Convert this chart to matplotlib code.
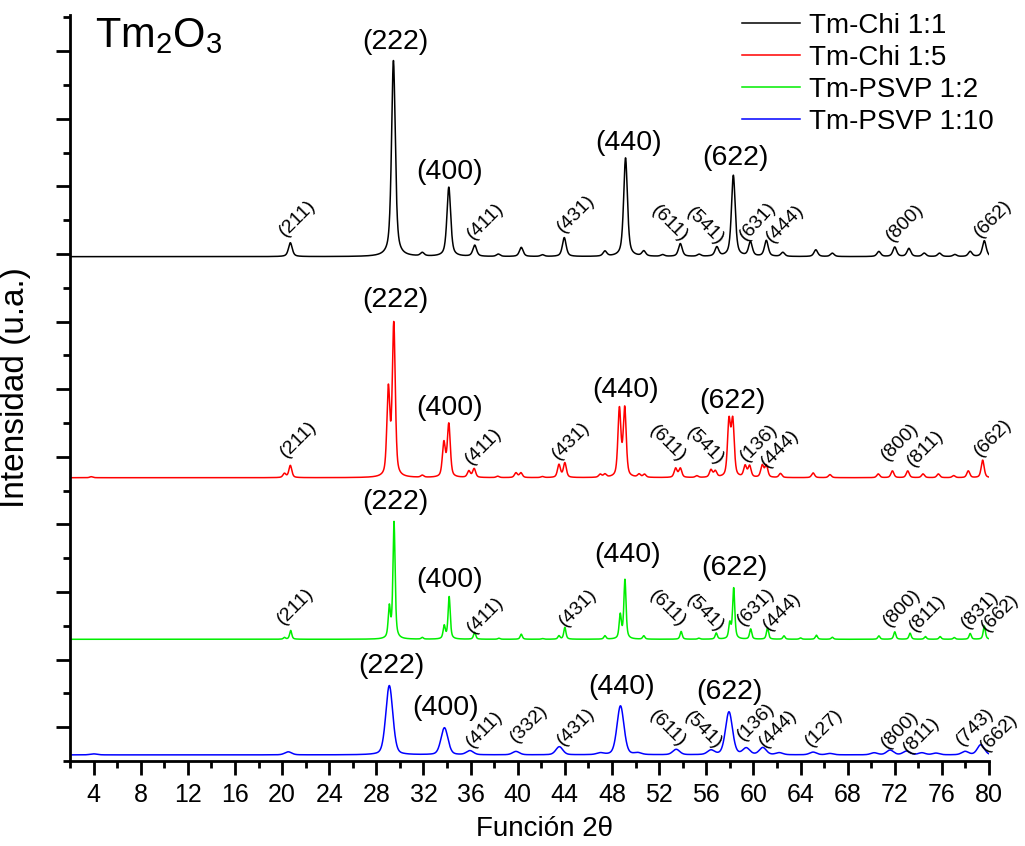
import numpy as np
import matplotlib
matplotlib.use("Agg")
import matplotlib.pyplot as plt
from matplotlib.ticker import MultipleLocator, FixedLocator, NullFormatter

plt.rcParams['font.family'] = ['Liberation Sans', 'DejaVu Sans']
plt.rcParams['mathtext.fontset'] = 'custom'
plt.rcParams['mathtext.rm'] = 'Liberation Sans'

# series names, colours and vertical offsets of each pattern
names = ["Tm-Chi 1:1", "Tm-Chi 1:5", "Tm-PSVP 1:2", "Tm-PSVP 1:10"]
colors = ["#000000", "#ff0000", "#00ee00", "#0000ff"]
offsets = [14.92, 8.38, 3.6, 0.18]
fwhm = [0.38, 0.3, 0.22, 0.7]
eta = [0.6, 0.5, 0.6, 0.3]

# peak positions (2theta) and heights
pos_chi11 = [20.7, 29.45, 31.9, 34.15, 36.35, 38.35, 40.3, 42.1, 43.95, 47.4, 49.15,
             50.7, 52.3, 53.8, 55.4, 56.9, 58.3, 59.75, 61.1, 62.5, 65.3, 66.7, 70.65,
             72.0, 73.2, 74.5, 75.8, 77.1, 78.4, 79.6]
h_chi11 = [0.41, 5.8, 0.1, 2.05, 0.33, 0.07, 0.27, 0.05, 0.56, 0.15, 2.92, 0.15, 0.05,
           0.38, 0.06, 0.27, 2.4, 0.42, 0.47, 0.12, 0.2, 0.1, 0.15, 0.28, 0.24, 0.1,
           0.1, 0.06, 0.15, 0.47]

pos_chi15 = [3.8, 20.2, 20.7, 29.02, 29.48, 31.9, 33.73, 34.15, 35.85, 36.3, 38.3,
             39.85, 40.27, 42.1, 43.5, 44.0, 47.0, 47.4, 48.63, 49.08, 50.3, 50.76,
             53.4, 53.8, 55.2, 56.4, 56.77, 57.93, 58.25, 59.3, 59.68, 60.75, 61.1,
             62.3, 65.07, 66.5, 70.6, 71.8, 73.1, 74.4, 75.7, 77.0, 78.24, 79.46]
h_chi15 = [0.03, 0.12, 0.36, 2.55, 4.5, 0.06, 1.0, 1.56, 0.19, 0.26, 0.04, 0.14, 0.14,
           0.03, 0.38, 0.43, 0.09, 0.09, 2.0, 2.02, 0.09, 0.09, 0.27, 0.27, 0.05,
           0.22, 0.18, 1.62, 1.62, 0.33, 0.33, 0.35, 0.35, 0.12, 0.14, 0.09, 0.11,
           0.2, 0.2, 0.11, 0.11, 0.06, 0.2, 0.52]

pos_psvp12 = [20.2, 20.73, 29.1, 29.5, 31.9, 33.76, 34.18, 36.34, 38.4, 40.3, 42.1,
              43.5, 44.0, 47.4, 48.7, 49.1, 50.7, 53.87, 55.37, 56.85, 58.0, 58.33,
              59.77, 61.2, 62.6, 64.0, 65.35, 66.7, 70.65, 72.0, 73.3, 74.6, 75.85,
              77.05, 78.4, 79.6]
h_psvp12 = [0.05, 0.26, 0.9, 3.45, 0.05, 0.38, 1.25, 0.2, 0.03, 0.15, 0.02, 0.1, 0.35,
            0.1, 0.7, 1.75, 0.1, 0.23, 0.03, 0.18, 0.45, 1.5, 0.3, 0.33, 0.1, 0.04,
            0.12, 0.06, 0.1, 0.22, 0.18, 0.08, 0.08, 0.05, 0.17, 0.39]

pos_psvp110 = [4.0, 20.52, 29.1, 33.78, 35.94, 39.85, 43.53, 47.0, 48.72, 50.2, 53.45,
               56.4, 57.93, 59.4, 60.8, 62.2, 65.07, 66.5, 70.25, 71.6, 73.0, 74.3,
               75.5, 77.97, 79.3]
h_psvp110 = [0.03, 0.09, 2.05, 0.8, 0.12, 0.1, 0.24, 0.05, 1.45, 0.05, 0.16, 0.13, 1.27,
             0.19, 0.21, 0.06, 0.08, 0.04, 0.06, 0.14, 0.11, 0.06, 0.05, 0.1, 0.3]

peak_pos = [pos_chi11, pos_chi15, pos_psvp12, pos_psvp110]
peak_h = [h_chi11, h_chi15, h_psvp12, h_psvp110]

# reflection labels: (text, x, y, size, rotation)
labels_chi11 = [("(222)", 29.65, 21.28, 'big', 0), ("(400)", 34.18, 17.43, 'big', 0),
                ("(440)", 49.4, 18.27, 'big', 0), ("(622)", 58.5, 17.83, 'big', 0),
                ("(211)", 21.28, 16.06, 'small', 45), ("(411)", 37.3, 15.96, 'small', 45),
                ("(431)", 44.95, 16.2, 'small', 45), ("(611)", 52.9, 15.89, 'small', -45),
                ("(541)", 55.86, 15.81, 'small', -45), ("(631)", 60.39, 15.96, 'small', 48),
                ("(444)", 62.66, 15.89, 'small', 45), ("(800)", 72.86, 15.93, 'small', 45),
                ("(662)", 80.37, 16.03, 'small', 45)]
labels_chi15 = [("(222)", 29.6, 13.64, 'big', 0), ("(400)", 34.18, 10.43, 'big', 0),
                ("(440)", 49.14, 10.98, 'big', 0), ("(622)", 58.2, 10.66, 'big', 0),
                ("(211)", 21.37, 9.52, 'small', 45), ("(411)", 37.07, 9.32, 'small', 45),
                ("(431)", 44.52, 9.47, 'small', 45), ("(611)", 52.74, 9.4, 'small', -45),
                ("(541)", 55.86, 9.3, 'small', -45), ("(136)", 60.47, 9.42, 'small', 45),
                ("(444)", 62.23, 9.25, 'small', 45), ("(800)", 72.43, 9.43, 'small', 45),
                ("(811)", 74.56, 9.25, 'small', 45), ("(662)", 80.37, 9.55, 'small', 45)]
labels_psvp12 = [("(222)", 29.6, 7.67, 'big', 0), ("(400)", 34.23, 5.36, 'big', 0),
                 ("(440)", 49.34, 6.09, 'big', 0), ("(622)", 58.4, 5.7, 'big', 0),
                 ("(211)", 21.15, 4.57, 'small', 45), ("(411)", 37.3, 4.32, 'small', 45),
                 ("(431)", 45.09, 4.52, 'small', 45), ("(611)", 52.74, 4.52, 'small', -45),
                 ("(541)", 55.86, 4.37, 'small', -45), ("(631)", 60.25, 4.57, 'small', 45),
                 ("(444)", 62.45, 4.42, 'small', 45), ("(800)", 72.63, 4.52, 'small', 45),
                 ("(811)", 74.76, 4.37, 'small', 45), ("(831)", 79.23, 4.47, 'small', 45),
                 ("(662)", 80.95, 4.37, 'small', 45)]
labels_psvp110 = [("(222)", 29.3, 2.81, 'big', 0), ("(400)", 33.84, 1.56, 'big', 0),
                  ("(440)", 48.78, 2.2, 'big', 0), ("(622)", 57.98, 2.05, 'big', 0),
                  ("(411)", 37.15, 0.94, 'small', 45), ("(332)", 40.98, 1.09, 'small', 45),
                  ("(431)", 44.95, 1.01, 'small', 45), ("(611)", 52.74, 0.97, 'small', -45),
                  ("(541)", 55.7, 0.92, 'small', -45), ("(136)", 60.2, 1.16, 'small', 45),
                  ("(444)", 62.1, 0.97, 'small', 45), ("(127)", 66.0, 0.97, 'small', 45),
                  ("(800)", 72.43, 0.92, 'small', 45), ("(811)", 74.27, 0.77, 'small', 45),
                  ("(743)", 78.8, 1.01, 'small', 45), ("(662)", 80.85, 0.82, 'small', 45)]
all_labels = labels_chi11 + labels_chi15 + labels_psvp12 + labels_psvp110

x_ticks = list(range(4, 81, 4))


def pattern(x, centers, heights, w, eta=0.6):
    y = np.zeros_like(x)
    for c, h in zip(centers, heights):
        lor = 1.0 / (1.0 + ((x - c) / (w / 2)) ** 2)
        gau = np.exp(-4 * np.log(2) * ((x - c) / w) ** 2)
        y += h * (eta * lor + (1 - eta) * gau)
    return y


fig = plt.figure(figsize=(10.25, 8.46), dpi=100)
ax = fig.add_axes([0.0683, 0.1005, 0.8966, 0.8818])

x = np.linspace(2, 80, 6000)
for name, col, off, w, e, cp, hp in zip(names, colors, offsets, fwhm, eta, peak_pos, peak_h):
    ax.plot(x, off + pattern(x, cp, hp, w, e), color=col, lw=1.1, label=name)

sizes = {'big': 20.5, 'small': 14}
for txt, tx, ty, sz, rot in all_labels:
    ax.text(tx, ty, txt, fontsize=sizes[sz], rotation=rot, ha='center', va='center',
            rotation_mode='anchor', clip_on=False)

ax.text(0.027, 0.998, r'Tm$_{\mathregular{2}}$O$_{\mathregular{3}}$', transform=ax.transAxes,
        fontsize=30, ha='left', va='top')

ax.set_xlim(2, 80)
ax.set_ylim(0, 22.07)
ax.xaxis.set_major_locator(FixedLocator(x_ticks))
ax.xaxis.set_minor_locator(MultipleLocator(2))
ax.yaxis.set_major_locator(FixedLocator(np.arange(1, 22, 2)))
ax.yaxis.set_minor_locator(FixedLocator(np.arange(0, 23, 2)))
ax.yaxis.set_major_formatter(NullFormatter())

for s in ['top', 'right']:
    ax.spines[s].set_visible(False)
for s in ['left', 'bottom']:
    ax.spines[s].set_linewidth(2.0)
ax.tick_params(which='major', direction='out', length=10, width=2, labelsize=18, pad=6)
ax.tick_params(which='minor', direction='out', length=5, width=2)

ax.set_xlabel('Función 2θ', fontsize=20)
ax.xaxis.set_label_coords(0.516, -0.074)
ax.set_ylabel('Intensidad (u.a.)', fontsize=24, labelpad=12)

ax.legend(loc='upper right', bbox_to_anchor=(1.017, 1.018), frameon=False, fontsize=20,
          handlelength=2.1, handletextpad=0.3, labelspacing=0.22, borderaxespad=0)

fig.savefig('out.png', dpi=100)
